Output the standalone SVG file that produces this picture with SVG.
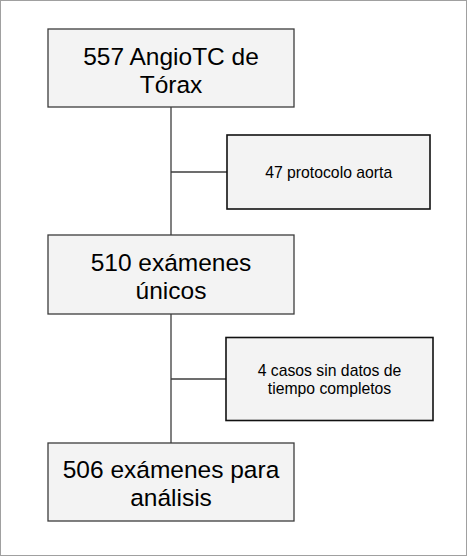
<svg xmlns="http://www.w3.org/2000/svg" width="467" height="556" viewBox="0 0 467 556">
<style>
.main{fill:#f3f3f3;stroke:#3c3c3c;stroke-width:1.3}
.side{fill:#f3f3f3;stroke:#111;stroke-width:1.6}
.big{font-family:"Liberation Sans",Arial,sans-serif;font-size:24.5px;fill:#000;text-anchor:middle}
.small{font-family:"Liberation Sans",Arial,sans-serif;font-size:15.75px;fill:#000;text-anchor:middle}
.conn{stroke:#3c3c3c;stroke-width:1.3;fill:none}
</style>
<rect x="0.5" y="0.5" width="466" height="555" fill="#fff" stroke="#a0a0a0" stroke-width="1"/>
<g id="connectors">
<line class="conn" x1="171" y1="107" x2="171" y2="235"/>
<line class="conn" x1="171" y1="172" x2="227" y2="172"/>
<line class="conn" x1="171" y1="314" x2="171" y2="443"/>
<line class="conn" x1="171" y1="379" x2="226" y2="379"/>
</g>
<g id="n1">
<rect class="main" x="48" y="29" width="246" height="78"/>
<text class="big" x="171" y="65">557 AngioTC de</text>
<text class="big" x="171" y="93">Tórax</text>
</g>
<g id="n2">
<rect class="side" x="227" y="135" width="203" height="74"/>
<text class="small" x="328.7" y="177.7">47 protocolo aorta</text>
</g>
<g id="n3">
<rect class="main" x="48" y="235" width="246" height="79"/>
<text class="big" x="171" y="271">510 exámenes</text>
<text class="big" x="171" y="299.3">únicos</text>
</g>
<g id="n4">
<rect class="side" x="226" y="337.5" width="207" height="83"/>
<text class="small" x="329.5" y="376">4 casos sin datos de</text>
<text class="small" x="329.5" y="393.5">tiempo completos</text>
</g>
<g id="n5">
<rect class="main" x="48" y="443" width="246" height="78"/>
<text class="big" x="171" y="478">506 exámenes para</text>
<text class="big" x="171" y="506">análisis</text>
</g>
</svg>
